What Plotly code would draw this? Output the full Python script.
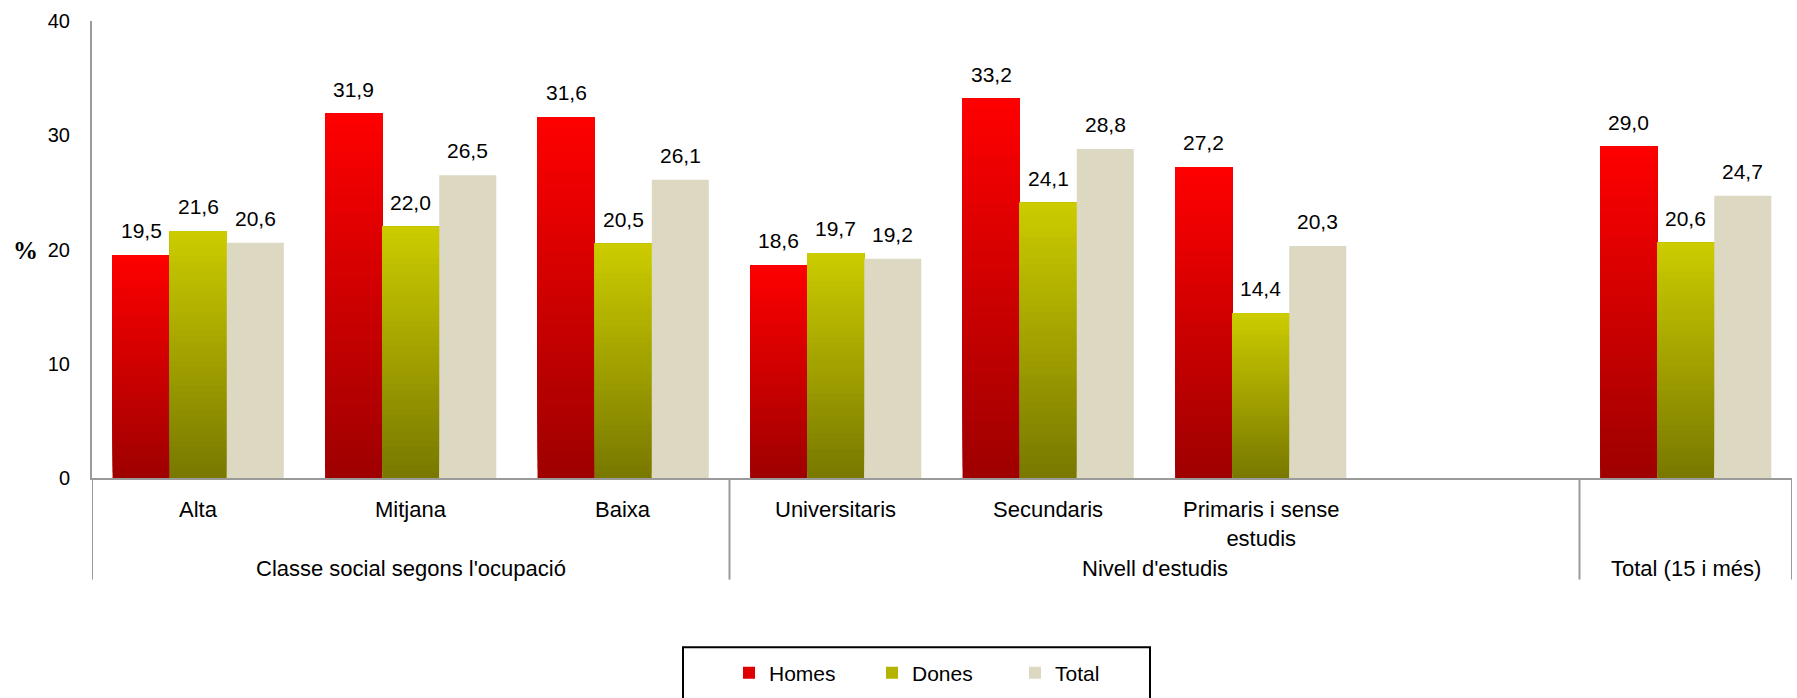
import plotly.graph_objects as go

# ---- data ----
groups = ["Classe social segons l'ocupació", "Nivell d'estudis", "Total (15 i més)"]
group_sizes = [3, 4, 1]
categories = ["Alta", "Mitjana", "Baixa", "Universitaris", "Secundaris",
              "Primaris i sense<br>estudis", "", ""]
homes = [19.5, 31.9, 31.6, 18.6, 33.2, 27.2, None, 29.0]
dones = [21.6, 22.0, 20.5, 19.7, 24.1, 14.4, None, 20.6]
total = [20.6, 26.5, 26.1, 19.2, 28.8, 20.3, None, 24.7]
series_names = ["Homes", "Dones", "Total"]
y_ticks = [0, 10, 20, 30, 40]

FONT = "Liberation Sans, Arial, sans-serif"
xs = list(range(len(categories)))

fig = go.Figure()

BARGAP = 0.195
N_SEG = 40


def lerp(c0, c1, t):
    return "rgb(%d,%d,%d)" % tuple(round(a + (b - a) * t) for a, b in zip(c0, c1))


specs = [
    ("Homes", homes, (158, 0, 0), (255, 0, 0), "#e00000"),
    ("Dones", dones, (120, 120, 0), (204, 204, 0), "#b4b400"),
    ("Total", total, None, None, "#ddd8c2"),
]

for name, vals, cbot, ctop, legcol in specs:
    fig.add_trace(go.Bar(
        x=xs, y=vals, name=name, offsetgroup=name,
        marker=dict(color=legcol, line=dict(width=0)),
        hovertemplate=name + ": %{y:.1f}<extra></extra>",
    ))
    if cbot is not None:
        for k in range(N_SEG):
            t0 = k / N_SEG
            base = [None if v is None else v * t0 for v in vals]
            hh = [None if v is None else v * (1 - t0) for v in vals]
            fig.add_trace(go.Bar(
                x=xs, y=hh, base=base, offsetgroup=name, showlegend=False,
                marker=dict(color=lerp(cbot, ctop, (k + 0.5) / N_SEG), line=dict(width=0)),
                hoverinfo="skip",
            ))

# data labels
bw = (1 - BARGAP) / 3
annotations = []
for si, (name, vals, *_r) in enumerate(specs):
    off = (si - 1) * bw
    for i, v in enumerate(vals):
        if v is None:
            continue
        annotations.append(dict(
            x=i + off, y=v, xref="x", yref="y", text=f"{v:.1f}".replace(".", ","),
            showarrow=False, yanchor="bottom", yshift=11,
            font=dict(family=FONT, size=21, color="#000")))

# plot geometry (pixels)
H_PLOT = 698 - 21 - 218


def py(px):  # pixel below zero line -> paper y
    return -(px - 480) / H_PLOT


# category labels
for i, c in enumerate(categories):
    if c:
        annotations.append(dict(
            x=i, y=py(497), xref="x", yref="paper", text=c, showarrow=False,
            yanchor="top", font=dict(family=FONT, size=22, color="#000")))

# group labels and separators
shapes = []
start = -0.5
bounds = [start]
for g, n in zip(groups, group_sizes):
    end = start + n
    annotations.append(dict(
        x=(start + end) / 2, y=py(571), xref="x", yref="paper", text=g,
        showarrow=False, yanchor="middle", font=dict(family=FONT, size=22, color="#000")))
    bounds.append(end)
    start = end
for b in bounds:
    shapes.append(dict(type="line", xref="x", yref="paper", x0=b, x1=b,
                       y0=0, y1=py(582), line=dict(color="#9a9a9a", width=2)))

# % label
annotations.append(dict(
    xref="paper", yref="paper", x=(25 - 92) / 1700, y=1 - (252 - 21) / H_PLOT,
    text="<b>%</b>", showarrow=False, xanchor="center", yanchor="middle",
    font=dict(family="Liberation Serif, serif", size=25, color="#000")))

# legend box
shapes.append(dict(type="rect", xref="paper", yref="paper",
                   x0=(683 - 92) / 1700, x1=(1150 - 92) / 1700,
                   y0=py(650), y1=py(710), line=dict(color="#000", width=2)))

fig.update_layout(
    width=1797, height=698,
    margin=dict(l=92, r=5, t=21, b=218),
    paper_bgcolor="white", plot_bgcolor="white",
    barmode="group", bargap=BARGAP, bargroupgap=0,
    font=dict(family=FONT, size=20, color="#000"),
    xaxis=dict(range=[-0.5, len(categories) - 0.5], showticklabels=False, ticks="",
               showgrid=False, zeroline=False, showline=True, linecolor="#9a9a9a",
               linewidth=2, fixedrange=True),
    yaxis=dict(range=[0, 40], tickvals=y_ticks, showgrid=False, zeroline=False,
               showline=True, linecolor="#9a9a9a", linewidth=2, ticks="",
               ticklabelstandoff=16, tickfont=dict(family=FONT, size=20, color="#000")),
    legend=dict(orientation="h", x=(729 - 92) / 1700, xanchor="left",
                y=py(676), yanchor="middle", font=dict(family=FONT, size=21),
                entrywidth=98, entrywidthmode="pixels", bgcolor="rgba(0,0,0,0)",
                itemclick=False, itemdoubleclick=False),
    annotations=annotations, shapes=shapes,
)

fig.write_html("out.html")
